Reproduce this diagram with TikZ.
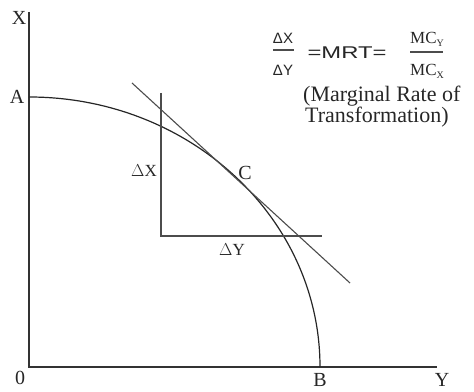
\documentclass[tikz,border=0pt]{standalone}
\usepackage{fontspec}
\setmainfont{Liberation Serif}
\newfontfamily\arialfont{Liberation Sans}
\tikzset{
  ax/.style={line width=1.4pt, draw=black!80},
  crv/.style={line width=1.2pt, draw=black!85},
  thin/.style={line width=1.1pt, draw=black!70},
  lbl/.style={font=\fontsize{20}{20}\selectfont, inner sep=0pt, text=black!85},
  dlbl/.style={font=\fontsize{17}{17}\selectfont, inner sep=0pt, text=black!85},
  fr/.style={font=\arialfont\fontsize{15}{15}\selectfont, inner sep=0pt, text=black!85},
  mc/.style={font=\fontsize{17}{17}\selectfont, inner sep=0pt, text=black!85},
  txt/.style={font=\fontsize{22}{22}\selectfont, inner sep=0pt, anchor=west, text=black!85}
}
\newcommand{\subsc}[1]{\raisebox{-3pt}{\fontsize{10}{10}\selectfont #1}}
\begin{document}
\begin{tikzpicture}[x=1pt,y=1pt]
\useasboundingbox (0,0) rectangle (474,391);
% axes
\coordinate (O) at (29,24);
\coordinate (Xt) at (29,379);
\coordinate (Ye) at (437,24);
\coordinate (A) at (29,294);
\coordinate (B) at (320,24);
\draw[ax] (Xt) -- (O) -- (Ye);
% curve
\draw[crv] (A) arc[start angle=90, end angle=0, x radius=291, y radius=270];
% tangent
\coordinate (T1) at (132,308);
\coordinate (T2) at (350,108);
\draw[thin] (T1) -- (T2);
% delta lines
\coordinate (D1) at (161,298);
\coordinate (D2) at (161,155);
\coordinate (D3) at (322,155);
\draw[thin] (D1) -- (D2) -- (D3);
% labels
\node[lbl] (lX) at (19,373) {X};
\node[lbl] (lA) at (17,294) {A};
\node[lbl] (l0) at (20,13) {0};
\node[lbl] (lB) at (320,11) {B};
\node[lbl] (lY) at (442,11) {Y};
\node[lbl] (lC) at (245,218) {C};
\node[dlbl] (ldx) at (144,220) {$\Delta$X};
\node[dlbl] (ldy) at (232,141) {$\Delta$Y};
% formula
\node[fr] (fdx) at (283,353) {ΔX};
\node[fr] (fdy) at (283,321) {ΔY};
\coordinate (b1) at (273,341);
\coordinate (b2) at (294,341);
\draw[thin] (b1) -- (b2);
\node[inner sep=0pt, text=black!85] (mrt) at (347,338) {\scalebox{1.4}[1]{\arialfont\fontsize{17}{17}\selectfont =MRT=}};
\node[mc] (mcy) at (427,352) {MC\subsc{Y}};
\node[mc] (mcx) at (427,320) {MC\subsc{X}};
\coordinate (c1) at (410,339);
\coordinate (c2) at (443,339);
\draw[thin] (c1) -- (c2);
\node[txt] (t1) at (303,295) {(Marginal Rate of};
\node[txt] (t2) at (305,274) {Transformation)};
\end{tikzpicture}
\end{document}
